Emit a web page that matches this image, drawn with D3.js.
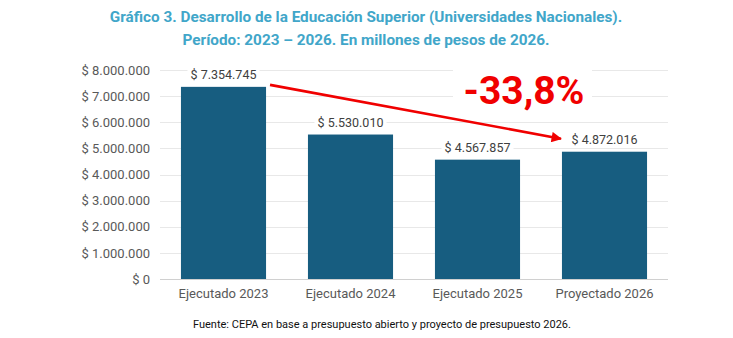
<!DOCTYPE html>
<html><head><meta charset="utf-8">
<script src="https://cdn.jsdelivr.net/npm/d3@7"></script>
<style>body{margin:0;background:#fff;}svg{display:block;font-family:Roboto,"Noto Sans",sans-serif;}</style>
</head><body><svg id="c" width="733" height="338"></svg>
<script>
const categories = ["Ejecutado 2023","Ejecutado 2024","Ejecutado 2025","Proyectado 2026"];
const values = [7354745, 5530010, 4567857, 4872016];
const valueLabels = ["$ 7.354.745","$ 5.530.010","$ 4.567.857","$ 4.872.016"];
const yTicks = [0,1000000,2000000,3000000,4000000,5000000,6000000,7000000,8000000];
const yTickLabels = ["$ 0","$ 1.000.000","$ 2.000.000","$ 3.000.000","$ 4.000.000","$ 5.000.000","$ 6.000.000","$ 7.000.000","$ 8.000.000"];
const titleLines = ["Gráfico 3. Desarrollo de la Educación Superior (Universidades Nacionales).","Período: 2023 – 2026. En millones de pesos de 2026."];
const changeLabel = "-33,8%";
const source = "Fuente: CEPA en base a presupuesto abierto y proyecto de presupuesto 2026.";

const svg = d3.select("#c");
const x = d3.scaleBand().domain(categories).range([160,668]).paddingInner(0.33).paddingOuter(0.165);
const y = d3.scaleLinear().domain([0,8000000]).range([279,70]);

// title
svg.selectAll("text.title").data(titleLines).join("text").attr("class","title")
  .attr("x",366).attr("y",(d,i)=>22+i*23).attr("text-anchor","middle")
  .attr("font-size",15.3).attr("font-weight","bold").attr("fill","#41a6c9").text(d=>d);

// grid
svg.append("g").selectAll("line").data(yTicks.slice(1)).join("line")
  .attr("x1",160).attr("x2",668).attr("y1",d=>Math.round(y(d))+0.5).attr("y2",d=>Math.round(y(d))+0.5)
  .attr("stroke","#e8e8e8").attr("stroke-width",1);

// y axis
const yAxis = d3.axisLeft(y).tickValues(yTicks).tickFormat((d,i)=>yTickLabels[i]).tickSize(0).tickPadding(10);
const gy = svg.append("g").attr("transform","translate(160,0)").call(yAxis);
gy.select(".domain").remove();
gy.selectAll("text").attr("font-size",13).attr("fill","#595959").attr("font-family","Roboto,sans-serif");

// bars
svg.append("g").selectAll("rect").data(values).join("rect")
  .attr("x",(d,i)=>x(categories[i])).attr("width",x.bandwidth())
  .attr("y",d=>y(d)).attr("height",d=>y(0)-y(d)).attr("fill","#175d80");

// baseline
svg.append("line").attr("x1",160).attr("x2",668).attr("y1",279.5).attr("y2",279.5).attr("stroke","#d0d0d0");

// x axis
const xAxis = d3.axisBottom(x).tickSize(0).tickPadding(10);
const gx = svg.append("g").attr("transform","translate(0,279)").call(xAxis);
gx.select(".domain").remove();
gx.selectAll("text").attr("font-size",13).attr("fill","#595959").attr("font-family","Roboto,sans-serif");

// value labels with white backgrounds
const vl = svg.append("g").selectAll("g").data(values).join("g");
vl.append("rect").attr("x",(d,i)=>x(categories[i])+x.bandwidth()/2-36).attr("width",72)
  .attr("y",d=>y(d)-22).attr("height",18).attr("fill","#fff");
vl.append("text").attr("x",(d,i)=>x(categories[i])+x.bandwidth()/2).attr("y",d=>y(d)-8)
  .attr("text-anchor","middle").attr("font-size",12.5).attr("fill","#404040").text((d,i)=>valueLabels[i]);

// change annotation arrow
svg.append("defs").append("marker").attr("id","ah").attr("viewBox","0 0 10 10").attr("refX",9).attr("refY",5)
  .attr("markerWidth",4.5).attr("markerHeight",4).attr("orient","auto").attr("markerUnits","strokeWidth")
  .append("path").attr("d","M0,0L10,5L0,10z").attr("fill","#f00000");
const ax0 = x(categories[0]) + x.bandwidth() + 4;
const ax1 = x(categories[3]) - 1;
svg.append("line").attr("x1",ax0).attr("y1",y(values[0])-2).attr("x2",ax1).attr("y2",y(values[3])-13)
  .attr("stroke","#f00000").attr("stroke-width",2.6).attr("marker-end","url(#ah)");
svg.append("rect").attr("x",453).attr("y",62).attr("width",139).attr("height",52).attr("fill","#fff");
svg.append("text").attr("x",524).attr("y",104).attr("text-anchor","middle").attr("font-size",39)
  .attr("font-weight","bold").attr("fill","#f00000").text(changeLabel);

// source
svg.append("text").attr("x",193).attr("y",328).attr("font-size",11).attr("fill","#111").text(source);
</script></body></html>
